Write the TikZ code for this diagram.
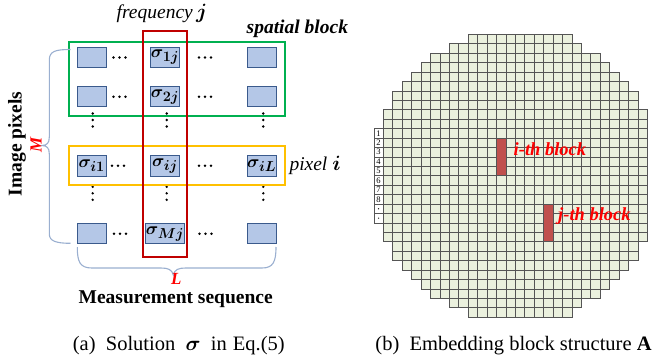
\documentclass[tikz,border=0pt]{standalone}
\usepackage{fontspec}
\setmainfont{Liberation Serif}
\usepackage{bm}
\definecolor{boxfill}{HTML}{B4C7E7}
\definecolor{boxedge}{HTML}{3A5A8C}
\definecolor{spgreen}{HTML}{00B050}
\definecolor{pxorange}{HTML}{FFC000}
\definecolor{frqred}{HTML}{C00000}
\definecolor{bracecol}{HTML}{9AAFD0}
\definecolor{gridfill}{HTML}{EBF1DE}
\definecolor{gridline}{HTML}{555555}
\definecolor{blockred}{HTML}{C0504D}
\definecolor{labred}{HTML}{FF0000}
\newcommand{\sgm}[1]{$\bm{\sigma}_{\bm{#1}}$}
\begin{document}
\begin{tikzpicture}[x=1pt,y=-1pt,
  pixbox/.style={draw=boxedge, fill=boxfill, line width=1pt, minimum width=29pt,
    minimum height=20.5pt, inner sep=0pt, font=\fontsize{19}{19}\selectfont},
  hdot/.style={fill=black, circle, inner sep=0pt, minimum size=2.7pt},
  frame/.style={line width=2pt},
  brace/.style={draw=bracecol, line width=1.1pt},
  big/.style={font=\fontsize{19.5}{22}\selectfont},
  captext/.style={font=\fontsize{20.5}{22}\selectfont},
  cell/.style={draw=gridline, fill=gridfill, line width=0.65pt},
  numcell/.style={draw=gridline, fill=white, line width=0.65pt},
  redblk/.style={draw=gridline, fill=blockred, line width=0.6pt, minimum width=9.43pt,
    minimum height=37.72pt, inner sep=0pt},
  blklab/.style={text=labred, font=\fontsize{18.5}{20}\selectfont\bfseries\itshape,
    inner sep=0pt, anchor=base west}]
\useasboundingbox (0,0) rectangle (656,364);

% ---------------- (a) solution matrix ----------------
% pixel boxes
\node[pixbox] (b11) at (91.7,57.5) {};
\node[pixbox] (b12) at (165,57.5) {\sgm{1j}};
\node[pixbox] (b13) at (261.7,57.5) {};
\node[pixbox] (b21) at (91.7,96.7) {};
\node[pixbox] (b22) at (165,96.7) {\sgm{2j}};
\node[pixbox] (b23) at (261.7,96.7) {};
\node[pixbox] (bi1) at (91.7,165.8) {\sgm{i1}};
\node[pixbox] (bi2) at (165,165.8) {\sgm{ij}};
\node[pixbox] (bi3) at (261.7,165.8) {\sgm{iL}};
\node[pixbox] (bM1) at (91.7,233.7) {};
\node[pixbox] (bM2) at (165,233.7) {\sgm{Mj}};
\node[pixbox] (bM3) at (261.7,233.7) {};

% horizontal ellipses
\foreach \cx/\cy in {119.5/57.5, 205/57.5, 119.5/96.7, 205/96.7,
                     118/165.8, 205/165.8, 120/233.7, 205.5/233.7}
  \foreach \d in {-6,0,6}
    \node[hdot] at (\cx+\d,\cy) {};
% vertical ellipses
\foreach \cx in {92.7,166.7,263.3}
  \foreach \cy in {120,193.3}
    \foreach \d in {-6.5,0,6.5}
      \node[hdot] at (\cx,\cy+\d) {};

% block frames
\draw[frame, spgreen] (69.3,42.3) rectangle (285,116.3);
\draw[frame, pxorange] (69.3,145.7) rectangle (285,185);
\draw[frame, frqred] (142.7,30.7) rectangle (187.3,257.3);

% braces
\draw[brace] (70.5,49.5) .. controls (56,49.5) and (49.3,51) .. (49.3,60)
  -- (49.3,137) .. controls (49.3,143) and (47,145.3) .. (42,145.5)
  .. controls (47,145.7) and (49.3,148) .. (49.3,154)
  -- (49.3,234) .. controls (49.3,241) and (56,243.3) .. (70.5,243.3);
\draw[brace] (77.3,247) .. controls (77.3,262) and (80,268) .. (92,268)
  -- (161,268) .. controls (168,268) and (172,269.5) .. (173.3,275)
  .. controls (174.6,269.5) and (178.6,268) .. (185.6,268)
  -- (262,268) .. controls (273,268) and (276,262) .. (276,247);

% labels
\node[big, inner sep=0pt, anchor=base west] (freq) at (116.5,18.5)
  {\textit{frequency}\,{\fontsize{22}{22}\selectfont$\bm{j}$}};
\node[big, inner sep=0pt, anchor=base west] (spat) at (246.5,34)
  {\textbf{\textit{spatial block}}};
\node[big, inner sep=0pt, anchor=base west] (pix) at (289.3,170)
  {\textit{pixel}\ {\fontsize{22}{22}\selectfont$\bm{i}$}};
\node[big, inner sep=0pt, anchor=base, rotate=90] (impx) at (21.7,144)
  {\textbf{Image pixels}};
\node[inner sep=0pt, text=labred, rotate=90,
  font=\fontsize{17}{17}\selectfont\bfseries\itshape] (mlab) at (36,145) {M};
\node[inner sep=0pt, text=labred, anchor=base, text depth=0pt,
  font=\fontsize{17}{17}\selectfont\bfseries\itshape] (llab) at (176.2,284.3) {L};
\node[big, inner sep=0pt, anchor=base, text height=13.5pt, text depth=4pt] (meas) at (175.7,303.2)
  {\textbf{Measurement sequence}};
\node[captext, inner sep=0pt, anchor=base] (capa) at (178.8,350)
  {(a)\hspace{0.5em}Solution\hspace{0.5em}$\bm{\sigma}$\hspace{0.5em}in\hspace{0.3em}Eq.(5)};

% ---------------- (b) block layout grid ----------------
\foreach \r/\a/\b in {0/9/19, 1/7/20, 2/5/22, 3/4/23, 4/3/24, 5/2/25, 6/1/26, 7/1/26,
  8/0/27, 9/0/27, 10/0/27, 11/0/27, 12/0/27, 13/0/27, 14/0/27, 15/0/27, 16/0/27,
  17/0/27, 18/0/27, 19/0/27, 20/0/27, 21/0/27,
  22/1/26, 23/1/26, 24/2/25, 25/3/24, 26/4/23, 27/5/22, 28/7/20, 29/9/19}
  \foreach \k in {\a,...,\b}
    \draw[cell] ({383.3+\k*9.43},{34.3+\r*9.43}) rectangle +(9.43,9.43);

% row index column
\foreach \r in {10,...,19}
  \draw[numcell] (373.87,{34.3+\r*9.43}) rectangle +(9.43,9.43);
\foreach \n in {1,...,8}
  \node[inner sep=0pt, font=\fontsize{8.5}{8.5}\selectfont] (idx\n) at (378.6,{34.3+(9.5+\n)*9.43}) {\n};
\foreach \r in {18,19}
  \node[fill=black, circle, inner sep=0pt, minimum size=1.3pt] (idd\r) at (378.6,{34.3+(\r+0.5)*9.43}) {};

% highlighted blocks
\node[redblk] (iblk) at (501.2,156.9) {};
\node[redblk] (jblk) at (548.35,222.9) {};
\node[blklab] (ilab) at (513.5,155.5) {i-th block};
\node[blklab] (jlab) at (558,220) {j-th block};

\node[captext, inner sep=0pt, anchor=base] (capb) at (513.5,350)
  {(b)\hspace{0.5em}Embedding block structure \textbf{A}};
\end{tikzpicture}
\end{document}
